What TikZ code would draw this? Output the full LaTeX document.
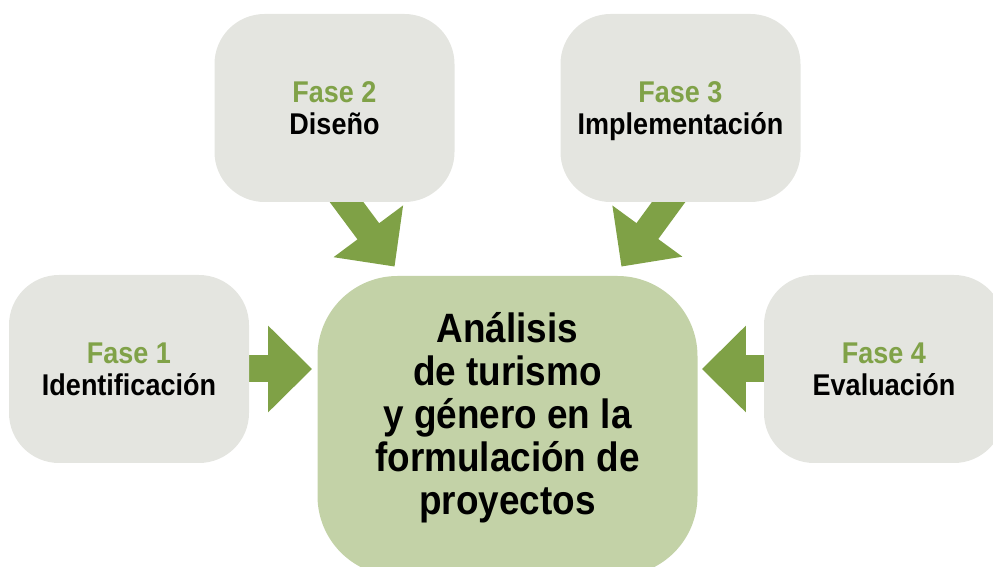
\documentclass[tikz,border=0pt]{standalone}
\usepackage{fontspec}
\setmainfont[FakeStretch=0.9]{Liberation Sans}
\usetikzlibrary{arrows.meta}

\tikzset{
  fase/.style={fill=fase_gris, rounded corners=25pt, minimum width=120pt,
    minimum height=94pt, inner sep=0pt, align=center,
    font=\fontsize{15}{16}\selectfont\bfseries},
  flecha/.style={draw=flecha_verde, line width=13.5pt,
    -{Triangle[length=22pt, width=42pt]}}
}

\newcommand{\fasetit}[1]{{\color{fase_verde}#1}}

\begin{document}
\begin{tikzpicture}[x=0.5pt, y=-0.5pt]

\definecolor{fase_gris}{HTML}{E4E5E0}
\definecolor{centro_verde}{HTML}{C3D2A7}
\definecolor{flecha_verde}{HTML}{7FA146}
\definecolor{fase_verde}{HTML}{80A248}

\useasboundingbox (0,0) rectangle (993,567);
\clip (0,0) rectangle (993,567);

% central box first (only for its anchors)
\path (507.5,426) node[minimum width=190pt, minimum height=150pt, inner sep=0pt] (centro) {};

\coordinate (tip2) at ([shift={(77.5,-9)}]centro.north west);
\coordinate (tip3) at ([shift={(-76.5,-9)}]centro.north east);

% the phases sit around it
\coordinate (f1pos) at (129,369);
\coordinate (f2pos) at (334.5,108);
\coordinate (f3pos) at (680.5,108);
\coordinate (f4pos) at (884,369);

% arrows go under the boxes
\draw[flecha, shorten >=2.5pt] (f1pos) -- (f1pos -| centro.west);
\draw[flecha, shorten >=2pt] (f4pos) -- (f4pos -| centro.east);
\draw[flecha] ([shift={(-20,51)}]f2pos) -- (tip2);
\draw[flecha] ([shift={(18.5,52.5)}]f3pos) -- (tip3);

\node[fase] (f1) at (f1pos) {\fasetit{Fase 1}\\Identificación};
\node[fase] (f2) at (f2pos) {\fasetit{Fase 2}\\Diseño};
\node[fase] (f3) at (f3pos) {\fasetit{Fase 3}\\\raisebox{0pt}[\height][0pt]{Implementación}};
\node[fase] (f4) at (f4pos) {\fasetit{Fase 4}\\Evaluación};

\node[fill=centro_verde, rounded corners=40pt, minimum width=190pt,
  minimum height=150pt, inner sep=0pt] (caja) at (centro) {};
\node[align=center, font=\fontsize{20.5}{21.5}\selectfont\bfseries] (tema)
  at ([yshift=4pt]caja.center)
  {Análisis\\de turismo\\y género en la\\formulación de\\proyectos};

\end{tikzpicture}
\end{document}
